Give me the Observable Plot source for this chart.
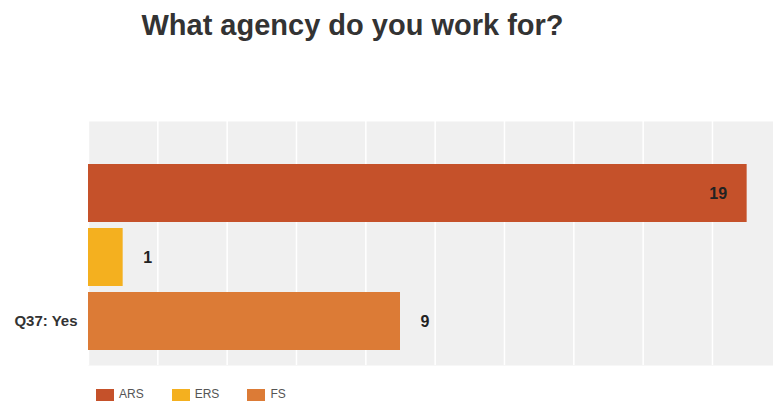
<!DOCTYPE html>
<html><head><meta charset="utf-8">
<script src="https://cdn.jsdelivr.net/npm/d3@7"></script>
<script src="https://cdn.jsdelivr.net/npm/@observablehq/plot@0.6"></script>
<style>
body{margin:0;background:#fff;overflow:hidden;font-family:"Liberation Sans",Arial,sans-serif}
#wrap{position:relative;width:773px;height:402px;overflow:hidden}
#title{position:absolute;left:0;width:705px;top:11px;text-align:center;font-weight:bold;font-size:29px;line-height:1;color:#333}
#chart{position:absolute;left:0;top:0}
#legend{position:absolute;left:96px;top:388px;display:flex;gap:28px;font-size:12px;line-height:13px;color:#555}
#legend .item{display:flex;gap:5px;align-items:center}
#legend .sw{width:18px;height:12px}
</style></head>
<body>
<div id="wrap">
  <div id="chart"></div>
  <div id="title">What agency do you work for?</div>
  <div id="legend"></div>
</div>
<script>
const chartTitle = "What agency do you work for?";
const groupLabel = "Q37: Yes";
const agencies = ["ARS", "ERS", "FS"];
const counts = [19, 1, 9];
const colors = ["#C5512A", "#F4B01F", "#DC7B36"];
const xTicks = [0, 2, 4, 6, 8, 10, 12, 14, 16, 18];
const xMax = 19.76;

const data = agencies.map((a, i) => ({agency: a, value: counts[i]}));
const inside = d => d.value > xMax * 0.8;

const plot = Plot.plot({
  width: 773,
  height: 365,
  marginTop: 121,
  marginBottom: 0,
  marginLeft: 88,
  marginRight: 0,
  x: {domain: [0, xMax], axis: null},
  y: {domain: agencies, axis: null, paddingInner: 0.1, paddingOuter: 0.44, align: 0.74},
  color: {domain: agencies, range: colors},
  marks: [
    Plot.frame({fill: "#f0f0f0", stroke: null}),
    Plot.ruleX(xTicks, {stroke: "#ffffff", strokeWidth: 1.5, strokeOpacity: 1}),
    Plot.barX(data, {x: "value", y: "agency", fill: "agency"}),
    Plot.text(data.filter(inside), {x: "value", y: "agency", text: d => String(d.value), textAnchor: "end", dx: -20, fill: "#222", fontWeight: "bold", fontSize: 16}),
    Plot.text(data.filter(d => !inside(d)), {x: "value", y: "agency", text: d => String(d.value), textAnchor: "start", dx: 20, fill: "#222", fontWeight: "bold", fontSize: 16}),
    Plot.text([groupLabel], {x: () => 0, y: () => agencies[agencies.length - 1], text: d => d, textAnchor: "end", dx: -11, fill: "#333", fontWeight: "bold", fontSize: 15})
  ],
  style: {fontFamily: "'Liberation Sans', Arial, sans-serif", background: "transparent", overflow: "visible"}
});
document.getElementById("chart").appendChild(plot);
document.getElementById("title").textContent = chartTitle;

const legend = document.getElementById("legend");
agencies.forEach((a, i) => {
  const item = document.createElement("div");
  item.className = "item";
  const sw = document.createElement("div");
  sw.className = "sw";
  sw.style.background = colors[i];
  const lb = document.createElement("span");
  lb.textContent = a;
  item.appendChild(sw);
  item.appendChild(lb);
  legend.appendChild(item);
});
</script>
</body></html>
